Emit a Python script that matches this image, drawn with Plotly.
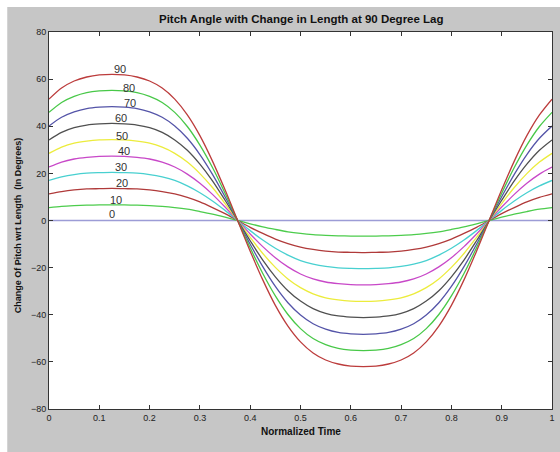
import plotly.graph_objects as go

# Normalized time samples (every 0.025)
normalized_time = [0.0, 0.025, 0.05, 0.075, 0.1, 0.125, 0.15, 0.175, 0.2, 0.225,
                   0.25, 0.275, 0.3, 0.325, 0.35, 0.375, 0.4, 0.425, 0.45, 0.475,
                   0.5, 0.525, 0.55, 0.575, 0.6, 0.625, 0.65, 0.675, 0.7, 0.725,
                   0.75, 0.775, 0.8, 0.825, 0.85, 0.875, 0.9, 0.925, 0.95, 0.975, 1.0]

lag_labels = ["0", "10", "20", "30", "40", "50", "60", "70", "80", "90"]

pitch_0 = [0.0] * 41
pitch_10 = [5.5, 6.0, 6.3, 6.5, 6.6, 6.6, 6.6, 6.5, 6.3, 6.0, 5.5, 4.8, 3.8, 2.7, 1.4, 0,
            -1.4, -2.7, -3.8, -4.8, -5.5, -6.0, -6.3, -6.5, -6.6, -6.6, -6.6, -6.5, -6.3, -6.0,
            -5.5, -4.8, -3.8, -2.7, -1.4, 0, 1.4, 2.7, 3.8, 4.8, 5.5]
pitch_20 = [11.3, 12.3, 13.0, 13.4, 13.5, 13.6, 13.5, 13.4, 13.0, 12.3, 11.3, 9.8, 7.9, 5.5, 2.9, 0,
            -2.9, -5.5, -7.9, -9.8, -11.3, -12.3, -13.0, -13.4, -13.5, -13.6, -13.5, -13.4, -13.0, -12.3,
            -11.3, -9.8, -7.9, -5.5, -2.9, 0, 2.9, 5.5, 7.9, 9.8, 11.3]
pitch_30 = [17.0, 18.5, 19.5, 20.1, 20.3, 20.4, 20.3, 20.1, 19.5, 18.5, 17.0, 14.7, 11.8, 8.3, 4.3, 0,
            -4.3, -8.3, -11.8, -14.7, -17.0, -18.5, -19.5, -20.1, -20.3, -20.4, -20.3, -20.1, -19.5, -18.5,
            -17.0, -14.7, -11.8, -8.3, -4.3, 0, 4.3, 8.3, 11.8, 14.7, 17.0]
pitch_40 = [22.7, 24.8, 26.1, 26.8, 27.2, 27.3, 27.2, 26.8, 26.1, 24.8, 22.7, 19.7, 15.8, 11.1, 5.7, 0,
            -5.7, -11.1, -15.8, -19.7, -22.7, -24.8, -26.1, -26.8, -27.2, -27.3, -27.2, -26.8, -26.1, -24.8,
            -22.7, -19.7, -15.8, -11.1, -5.7, 0, 5.7, 11.1, 15.8, 19.7, 22.7]
pitch_50 = [28.5, 31.1, 32.8, 33.7, 34.2, 34.3, 34.2, 33.7, 32.8, 31.1, 28.5, 24.8, 19.9, 14.0, 7.2, 0,
            -7.2, -14.0, -19.9, -24.8, -28.5, -31.1, -32.8, -33.7, -34.2, -34.3, -34.2, -33.7, -32.8, -31.1,
            -28.5, -24.8, -19.9, -14.0, -7.2, 0, 7.2, 14.0, 19.9, 24.8, 28.5]
pitch_60 = [34.2, 37.4, 39.4, 40.5, 41.0, 41.2, 41.0, 40.5, 39.4, 37.4, 34.2, 29.8, 23.9, 16.8, 8.6, 0,
            -8.6, -16.8, -23.9, -29.8, -34.2, -37.4, -39.4, -40.5, -41.0, -41.2, -41.0, -40.5, -39.4, -37.4,
            -34.2, -29.8, -23.9, -16.8, -8.6, 0, 8.6, 16.8, 23.9, 29.8, 34.2]
pitch_70 = [40.1, 43.8, 46.1, 47.5, 48.1, 48.3, 48.1, 47.5, 46.1, 43.8, 40.1, 34.9, 28.0, 19.6, 10.1, 0,
            -10.1, -19.6, -28.0, -34.9, -40.1, -43.8, -46.1, -47.5, -48.1, -48.3, -48.1, -47.5, -46.1, -43.8,
            -40.1, -34.9, -28.0, -19.6, -10.1, 0, 10.1, 19.6, 28.0, 34.9, 40.1]
pitch_80 = [45.9, 50.1, 52.7, 54.3, 55.0, 55.2, 55.0, 54.3, 52.7, 50.1, 45.9, 39.9, 32.0, 22.5, 11.6, 0,
            -11.6, -22.5, -32.0, -39.9, -45.9, -50.1, -52.7, -54.3, -55.0, -55.2, -55.0, -54.3, -52.7, -50.1,
            -45.9, -39.9, -32.0, -22.5, -11.6, 0, 11.6, 22.5, 32.0, 39.9, 45.9]
pitch_90 = [51.5, 56.2, 59.2, 60.9, 61.8, 62.0, 61.8, 60.9, 59.2, 56.2, 51.5, 44.8, 36.0, 25.2, 13.0, 0,
            -13.0, -25.2, -36.0, -44.8, -51.5, -56.2, -59.2, -60.9, -61.8, -62.0, -61.8, -60.9, -59.2, -56.2,
            -51.5, -44.8, -36.0, -25.2, -13.0, 0, 13.0, 25.2, 36.0, 44.8, 51.5]

series = [pitch_0, pitch_10, pitch_20, pitch_30, pitch_40,
          pitch_50, pitch_60, pitch_70, pitch_80, pitch_90]

# label anchor positions (x, y) in data units
label_x = [0.125, 0.134, 0.145, 0.144, 0.150, 0.146, 0.144, 0.161, 0.159, 0.141]
label_y = [2.9, 8.8, 15.9, 22.5, 29.6, 35.9, 43.3, 49.9, 56.4, 64.2]

colors = ["#9c9cd6", "#4ccc4c", "#b03a3a", "#48d0d0", "#c848c8",
          "#ecec3c", "#505050", "#5454a8", "#48c848", "#bc3c3c"]

FONT = "Arial, 'Liberation Sans', sans-serif"

fig = go.Figure()
for lab, ys, col in zip(lag_labels, series, colors):
    fig.add_trace(go.Scatter(
        x=normalized_time, y=ys, mode="lines", name=lab,
        line=dict(color=col, width=1.3, shape="spline", smoothing=0.8),
        showlegend=False, hoverinfo="skip"))

annotations = []
for lab, lx, ly in zip(lag_labels, label_x, label_y):
    annotations.append(dict(x=lx, y=ly, xref="x", yref="y", text=lab,
                            showarrow=False, font=dict(family=FONT, size=11, color="#333333")))

annotations.append(dict(x=-0.0613, y=0.488, xref="paper", yref="paper",
                        xanchor="center", yanchor="middle",
                        text="<b>Change Of Pitch wrt Length  (In Degrees)</b>",
                        textangle=-90, showarrow=False,
                        font=dict(family=FONT, size=9, color="#111111")))
annotations.append(dict(x=0.5, y=-0.061, xref="paper", yref="paper",
                        xanchor="center", yanchor="middle",
                        text="<b>Normalized Time</b>", showarrow=False,
                        font=dict(family=FONT, size=10, color="#111111")))

shapes = [
    dict(type="rect", xref="paper", yref="paper", x0=-0.2, x1=-0.083, y0=-0.3, y1=1.3,
         fillcolor="white", line=dict(width=0), layer="below"),
    dict(type="rect", xref="paper", yref="paper", x0=-0.2, x1=1.2, y0=1.0663, y1=1.3,
         fillcolor="white", line=dict(width=0), layer="below"),
]

fig.update_layout(
    width=560, height=452,
    margin=dict(l=49, r=5, t=32, b=43),
    paper_bgcolor="#c6c6c6",
    plot_bgcolor="white",
    title=dict(text="<b>Pitch Angle with Change in Length at 90 Degree Lag</b>",
               x=0.538, xanchor="center", y=1 - 19 / 452, yanchor="middle",
               font=dict(family=FONT, size=11.5, color="#111111")),
    annotations=annotations,
    shapes=shapes,
    xaxis=dict(range=[0, 1], tickvals=[0, 0.1, 0.2, 0.3, 0.4, 0.5, 0.6, 0.7, 0.8, 0.9, 1],
               ticktext=["0", "0.1", "0.2", "0.3", "0.4", "0.5", "0.6", "0.7", "0.8", "0.9", "1"],
               showgrid=False, zeroline=False, showline=True, linecolor="#333333", linewidth=1,
               mirror="ticks", ticks="inside", ticklen=4, tickcolor="#333333",
               tickfont=dict(family=FONT, size=9, color="#222222")),
    yaxis=dict(range=[-80, 80], tickvals=[-80, -60, -40, -20, 0, 20, 40, 60, 80],
               showgrid=False, zeroline=False, showline=True, linecolor="#333333", linewidth=1,
               mirror="ticks", ticks="inside", ticklen=4, tickcolor="#333333",
               tickfont=dict(family=FONT, size=9, color="#222222")),
)

fig.write_html("out.html")
